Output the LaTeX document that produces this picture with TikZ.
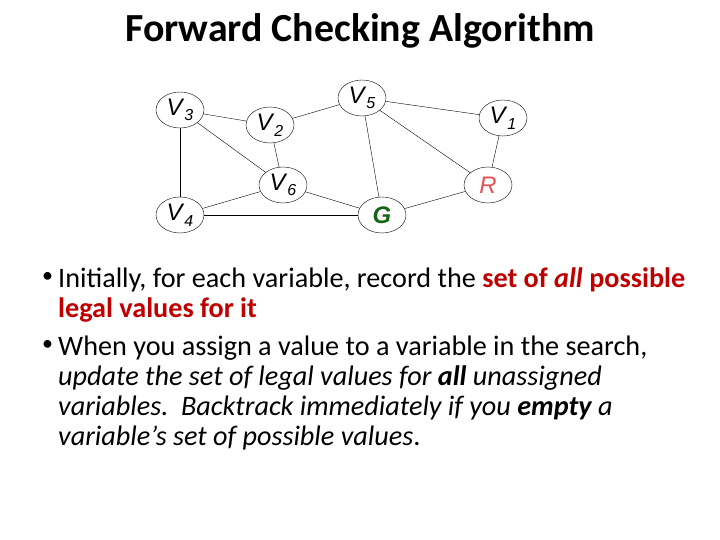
\documentclass[tikz,border=0pt]{standalone}
\usepackage{fontspec}
\setmainfont{Carlito}
\newfontfamily\arialfont{Liberation Sans}
\usetikzlibrary{shapes.geometric}
\definecolor{darkred}{RGB}{192,0,0}
\definecolor{softred}{RGB}{230,80,80}
\definecolor{darkgreen}{RGB}{20,100,20}
\tikzset{var/.style={ellipse, draw, thin, minimum width=48bp, minimum height=36bp, inner sep=0pt, font=\arialfont\fontsize{24}{26}\selectfont},
  bulletline/.style={anchor=north west, align=left, inner sep=0pt, font=\fontsize{28.3}{30}\selectfont}}
\newcommand{\vname}[1]{\textit{V}\raisebox{-0.45ex}{\fontsize{16}{16}\selectfont\textit{#1}}}
\begin{document}
\begin{tikzpicture}[x=1bp,y=-1bp]
\useasboundingbox (0,0) rectangle (720,540);
% title
\node (title) at (360,31) {\fontsize{40}{44}\selectfont\bfseries Forward Checking Algorithm};
% constraint graph
\node[var] (v3) at (180,110) {\vname{3}};
\node[var] (v2) at (270,125) {\vname{2}};
\node[var] (v5) at (362,98) {\vname{5}};
\node[var] (v1) at (503,118) {\vname{1}};
\node[var] (v6) at (283,185) {\vname{6}};
\node[var] (r) at (488,185) {\textcolor{softred}{\textit{R}}};
\node[var] (v4) at (180,215) {\vname{4}};
\node[var] (g) at (382,215) {\textcolor{darkgreen}{\textbf{\textit{G}}}};
\foreach \a/\b in {v3/v2,v3/v6,v3/v4,v2/v5,v2/v6,v5/v1,v5/g,v5/r,v1/r,v6/v4,v6/g,v4/g,g/r}
  \draw[thin] (\a) -- (\b);
% bullets
\node[bulletline, font=\fontsize{22}{30}\selectfont] (b1) at (42,272) {\textbullet};
\node[bulletline] (t1) at (58,268) {Initially, for each variable, record the \textcolor{darkred}{\textbf{set of \textit{all} possible}}\\
\textcolor{darkred}{\textbf{legal values for it}}};
\node[bulletline, font=\fontsize{22}{30}\selectfont] (b2) at (42,340) {\textbullet};
\node[bulletline] (t2) at (58,336) {When you assign a value to a variable in the search,\\
\textit{update the set of legal values for \textbf{all} unassigned}\\
\textit{variables.\ \ Backtrack immediately if you \textbf{empty} a}\\
\textit{variable's set of possible values}.};
\end{tikzpicture}
\end{document}
